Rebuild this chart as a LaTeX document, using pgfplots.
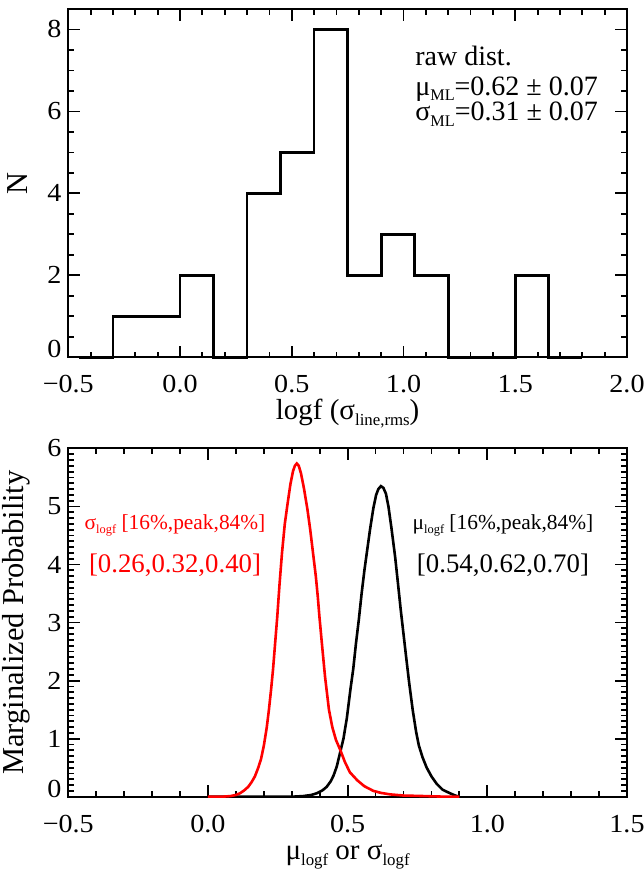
\documentclass[border=0pt]{standalone}
\usepackage{fontspec}
\setmainfont{Liberation Serif}
\newfontfamily\tickfont[FakeStretch=1.08]{Liberation Serif}
\usepackage{pgfplots}
\pgfplotsset{compat=1.18}
% lowered, shrunk subscript as in the IDL labels
\newcommand{\sub}[1]{\raisebox{-0.45ex}{\scalebox{0.58}{#1}}}
\pgfplotsset{
  idlbox/.style={
    scale only axis, width=279.35pt, height=174.15pt,
    axis line style={line width=1pt},
    every tick/.style={black,line width=0.9pt},
    major tick length=5.8pt, minor tick length=2.8pt,
    tick align=inside,
    tick label style={font=\tickfont\fontsize{13}{15}\selectfont, inner sep=0pt},
    xticklabel style={yshift=-9pt},
    yticklabel style={xshift=-3.3pt},
    clip=false,
  },
}
\begin{document}
\begin{tikzpicture}
\useasboundingbox (0,0) rectangle (321.5pt,435.5pt);

% ---- top: raw histogram ----
\begin{axis}[idlbox, at={(34.15pt,256.85pt)}, anchor=south west,
  xmin=-0.5, xmax=2, ymin=0, ymax=8.5,
  xtick={-0.5,0,0.5,1,1.5,2},
  xticklabels={−0.5,0.0,0.5,1.0,1.5,2.0},
  minor x tick num=4,
  ytick={0,2,4,6,8},
  yticklabels={\raisebox{8pt}{0},2,4,6,8},
  minor y tick num=3,
]
\addplot[const plot, black, line width=1.35pt] coordinates {
  (-0.45,0) (-0.3,1) (-0.15,1) (0,2) (0.15,0) (0.3,4) (0.45,5) (0.6,8)
  (0.75,2) (0.9,3) (1.05,2) (1.2,0) (1.5,2) (1.65,0) (1.8,0)};
\node[anchor=base west, inner sep=0, font=\fontsize{14}{16}\selectfont] at (axis cs:1.051,7.12) {raw dist.};
\node[anchor=base west, inner sep=0, font=\fontsize{14}{16}\selectfont] at (axis cs:1.051,6.40) {μ\sub{ML}=0.62 ± 0.07};
\node[anchor=base west, inner sep=0, font=\fontsize{14}{16}\selectfont] at (axis cs:1.051,5.775) {σ\sub{ML}=0.31 ± 0.07};
\end{axis}

% ---- bottom: marginalized probabilities ----
\begin{axis}[idlbox, at={(34.15pt,37.15pt)}, anchor=south west,
  xmin=-0.5, xmax=1.5, ymin=0, ymax=6,
  xtick={-0.5,0,0.5,1,1.5},
  xticklabels={−0.5,0.0,0.5,1.0,1.5},
  minor x tick num=4,
  ytick={0,1,2,3,4,5,6},
  yticklabels={\raisebox{8pt}{0},1,2,3,4,5,\raisebox{-8pt}{6}},
  minor y tick num=9,
]
\addplot[black, line width=1.3pt] coordinates {
  (0.00,0) (0.30,0.0) (0.34,0.01) (0.37,0.03) (0.39,0.06) (0.41,0.11) (0.425,0.17)
  (0.44,0.27) (0.45,0.37) (0.461,0.52) (0.474,0.78) (0.485,1.0) (0.497,1.35)
  (0.51,1.85) (0.52,2.2) (0.53,2.65) (0.54,3.05) (0.55,3.5) (0.56,3.9) (0.57,4.25)
  (0.58,4.6) (0.592,4.97) (0.602,5.2) (0.61,5.3) (0.619,5.35) (0.628,5.32)
  (0.637,5.22) (0.646,5.0) (0.657,4.62) (0.67,4.13) (0.68,3.68) (0.69,3.22)
  (0.70,2.8) (0.71,2.38) (0.72,1.97) (0.733,1.49) (0.745,1.12) (0.755,0.88)
  (0.768,0.68) (0.783,0.5) (0.80,0.35) (0.819,0.22) (0.84,0.12) (0.866,0.06)
  (0.885,0.02) (0.90,0.0)};
\addplot[red, line width=1.3pt] coordinates {
  (0.00,0) (0.05,0.0) (0.08,0.01) (0.10,0.03) (0.115,0.06) (0.13,0.11) (0.144,0.17)
  (0.156,0.25) (0.168,0.35) (0.18,0.5) (0.19,0.65) (0.20,0.88) (0.21,1.18)
  (0.218,1.49) (0.226,1.85) (0.233,2.2) (0.24,2.62) (0.248,3.1) (0.256,3.65)
  (0.265,4.2) (0.275,4.7) (0.285,5.05) (0.295,5.38) (0.304,5.6) (0.311,5.7)
  (0.318,5.74) (0.325,5.7) (0.333,5.57) (0.344,5.3) (0.356,4.95) (0.366,4.6)
  (0.376,4.2) (0.386,3.8) (0.393,3.45) (0.399,3.1) (0.407,2.68) (0.419,2.07)
  (0.433,1.5) (0.445,1.2) (0.458,0.98) (0.474,0.8) (0.49,0.6) (0.508,0.42)
  (0.535,0.28) (0.56,0.18) (0.592,0.1) (0.62,0.065) (0.652,0.04) (0.70,0.02)
  (0.78,0.01) (0.85,0.0) (0.90,0.0)};
\node[anchor=base, inner sep=0, red, font=\fontsize{10.7}{12}\selectfont] at (axis cs:-0.118,4.61) {σ\sub{logf} [16\%,peak,84\%]};
\node[anchor=base, inner sep=0, red, font=\fontsize{13.4}{15}\selectfont] at (axis cs:-0.118,3.87) {[0.26,0.32,0.40]};
\node[anchor=base, inner sep=0, black, font=\fontsize{10.7}{12}\selectfont] at (axis cs:1.056,4.61) {μ\sub{logf} [16\%,peak,84\%]};
\node[anchor=base, inner sep=0, black, font=\fontsize{13.4}{15}\selectfont] at (axis cs:1.056,3.87) {[0.54,0.62,0.70]};
\end{axis}

% axis titles, placed on the page
\node[anchor=base, inner sep=0, font=\fontsize{14.5}{17}\selectfont] at (173.8pt,225.5pt) {logf (σ\sub{line,rms})};
\node[anchor=base, inner sep=0, font=\fontsize{14.5}{17}\selectfont] at (173.8pt,5.8pt) {μ\sub{logf} or σ\sub{logf}};
\node[rotate=90, inner sep=0, font=\fontsize{15.2}{17}\selectfont] at (8.75pt,343.9pt) {N};
\node[rotate=90, inner sep=0, font=\fontsize{15.2}{17}\selectfont] at (8pt,124.25pt) {Marginalized Probability};
\end{tikzpicture}
\end{document}
